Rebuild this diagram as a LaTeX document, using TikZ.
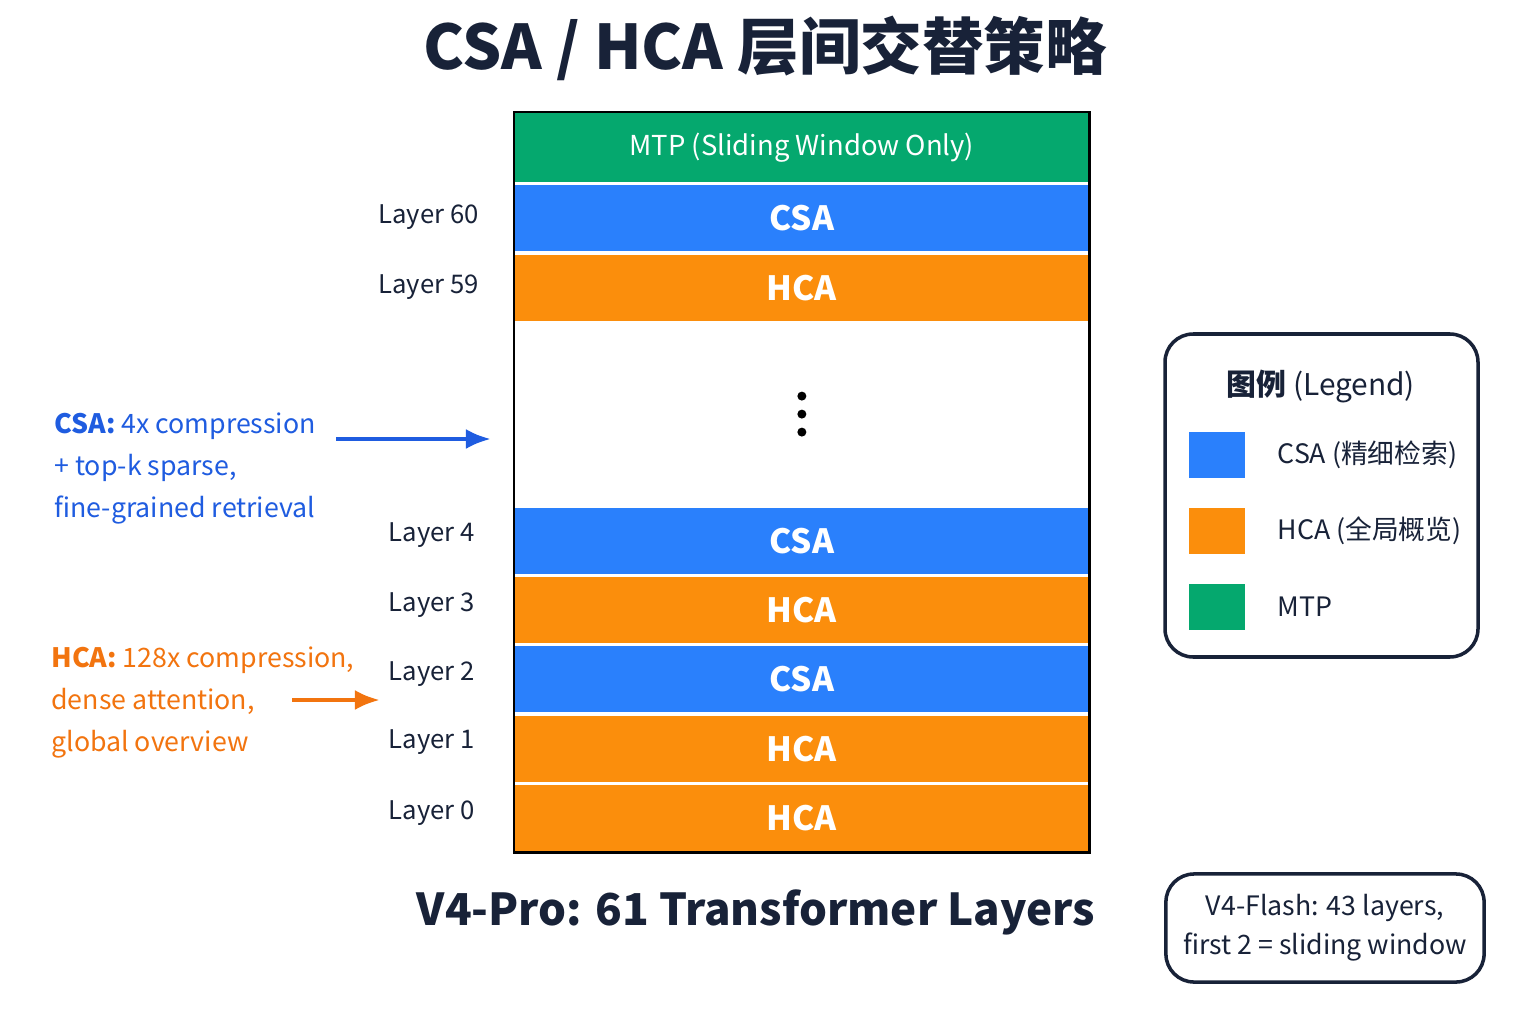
\documentclass[tikz,border=0pt]{standalone}
\usepackage{fontspec}
\setmainfont{Noto Sans CJK SC}
\usetikzlibrary{arrows.meta, positioning}
\definecolor{CsaBlue}{HTML}{2A80FC}
\definecolor{HcaOrange}{HTML}{FB8E0C}
\definecolor{MtpGreen}{HTML}{05A86E}
\definecolor{TitleNavy}{HTML}{182238}
\definecolor{NoteBlue}{HTML}{1F5CE0}
\definecolor{NoteOrange}{HTML}{F2740F}
\begin{document}
\begin{tikzpicture}[x=0.01cm, y=-0.01cm,
    layer/.style={rectangle, minimum width=5.74cm, minimum height=0.66cm,
                  text=white, font=\fontsize{9.5}{11}\selectfont\bfseries, inner sep=0pt},
    lname/.style={anchor=east, font=\fontsize{7.3}{9}\selectfont, text=TitleNavy},
    key/.style={rectangle, minimum width=0.55cm, minimum height=0.46cm, inner sep=0pt},
    keytext/.style={anchor=west, font=\fontsize{7.6}{9}\selectfont, text=TitleNavy},
    note/.style={anchor=north west, align=left, font=\fontsize{7.6}{12}\selectfont}
]
    \useasboundingbox[fill=white] (0,0) rectangle (1536,1024);
    \node[font=\fontsize{17.5}{20}\selectfont\bfseries, text=TitleNavy] (title) at (765,48) {CSA / HCA 层间交替策略};

    % stack of layers
    \node[layer, fill=MtpGreen, minimum height=0.69cm, anchor=north west,
          font=\fontsize{7.8}{9}\selectfont] (mtp) at (514,112) {MTP (Sliding Window Only)};
    \node[layer, fill=CsaBlue, below=0.02cm of mtp] (l60) {CSA};
    \node[layer, fill=HcaOrange, below=0.02cm of l60] (l59) {HCA};
    \node[layer, fill=white, text=black, minimum height=1.84cm, below=0cm of l59] (gap) {};
    \node[layer, fill=CsaBlue, below=0cm of gap] (l4) {CSA};
    \node[layer, fill=HcaOrange, below=0.02cm of l4] (l3) {HCA};
    \node[layer, fill=CsaBlue, below=0.02cm of l3] (l2) {CSA};
    \node[layer, fill=HcaOrange, below=0.02cm of l2] (l1) {HCA};
    \node[layer, fill=HcaOrange, below=0.02cm of l1] (l0) {HCA};
    \draw[black, line width=0.8pt] (mtp.north west) rectangle (l0.south east);
    \foreach \dy in {-18,0,18}
        \fill (gap.center) ++(0,\dy) circle (0.045cm);

    \node[lname] at (491,217) {Layer 60};
    \node[lname] at (491,287) {Layer 59};
    \node[lname] at (487,535) {Layer 4};
    \node[lname] at (487,605) {Layer 3};
    \node[lname] at (487,674) {Layer 2};
    \node[lname] at (487,742) {Layer 1};
    \node[lname] at (487,813) {Layer 0};

    % annotations
    \node[note, text=NoteBlue] (csanote) at (42,400)
        {\textbf{CSA:} 4x compression\\+ top-k sparse,\\fine-grained retrieval};
    \coordinate (csafrom) at (336,439);
    \coordinate (csato) at (491,439);
    \draw[-{Latex[length=0.25cm,width=0.2cm]}, NoteBlue, line width=1.3pt] (csafrom) -- (csato);
    \node[note, text=NoteOrange] (hcanote) at (39,634)
        {\textbf{HCA:} 128x compression,\\dense attention,\\global overview};
    \coordinate (hcafrom) at (292,700);
    \coordinate (hcato) at (380,700);
    \draw[-{Latex[length=0.25cm,width=0.2cm]}, NoteOrange, line width=1.3pt] (hcafrom) -- (hcato);

    \node[font=\fontsize{12.5}{15}\selectfont\bfseries, text=TitleNavy] (caption) at (756,912)
        {V4-Pro: 61 Transformer Layers};

    % legend
    \draw[TitleNavy, line width=1pt, rounded corners=8pt] (1165,334) rectangle (1478,657);
    \node[anchor=west, font=\fontsize{8.5}{10}\selectfont\bfseries, text=TitleNavy] (legtitle) at (1214,386) {图例 \mdseries(Legend)};
    \node[key, fill=CsaBlue] (kcsa) at (1217,455) {};
    \node[keytext, right=0.2cm of kcsa] {CSA (精细检索)};
    \node[key, fill=HcaOrange] (khca) at (1217,531) {};
    \node[keytext, right=0.2cm of khca] {HCA (全局概览)};
    \node[key, fill=MtpGreen] (kmtp) at (1217,607) {};
    \node[keytext, right=0.2cm of kmtp] {MTP};

    % flash note
    \node[draw=TitleNavy, line width=1pt, rounded corners=8pt, align=center,
          minimum width=3.18cm, minimum height=1.08cm, text=TitleNavy,
          font=\fontsize{7.6}{11}\selectfont] (flash) at (1325,928)
        {V4-Flash: 43 layers,\\first 2 = sliding window};
\end{tikzpicture}
\end{document}
